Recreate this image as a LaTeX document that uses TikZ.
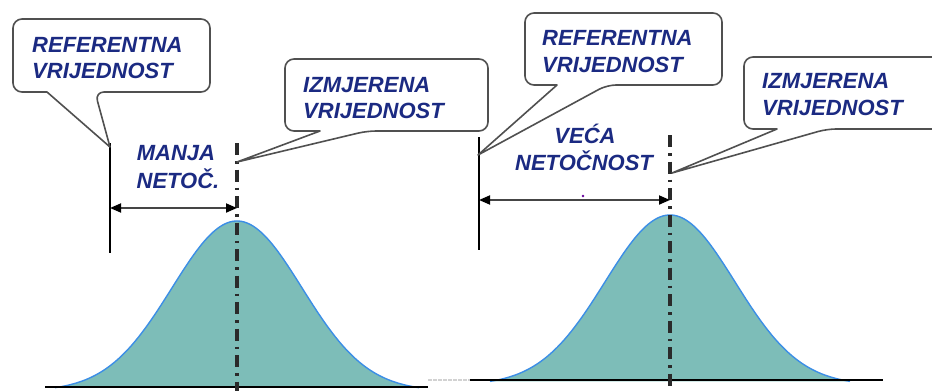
\documentclass[tikz,border=0pt]{standalone}
\usepackage{fontspec}
\setsansfont{Liberation Sans}
\usetikzlibrary{arrows.meta}
\definecolor{txtblue}{HTML}{1B2A82}
\definecolor{bellfill}{HTML}{7DBDB8}
\definecolor{belledge}{HTML}{3C8EE6}
\definecolor{boxline}{HTML}{505050}
\definecolor{dashline}{HTML}{2A2A2A}
\definecolor{spanline}{HTML}{454545}
\newcommand\mycallout[7]{%
  \draw[callout] (#5,#4) [rounded corners=9pt] -- (#1,#4) -- (#1,#2) -- (#3,#2) -- (#3,#4) -- (#6,#4) [sharp corners] -- (#7) -- cycle;}
\begin{document}
\begin{tikzpicture}[x=1pt,y=-1pt,
  lbl/.style={font=\fontsize{22}{27}\selectfont\sffamily\bfseries\itshape, text=txtblue, inner sep=0pt},
  callout/.style={draw=boxline, line width=1.6pt, fill=white, line join=round},
  refline/.style={draw=black, line width=2.2pt},
  axisline/.style={draw=black, line width=2pt},
  centreline/.style={draw=dashline, line width=3.2pt, dash pattern=on 12pt off 6pt on 2.5pt off 6pt},
  span/.style={draw=spanline, line width=1.8pt, {Triangle[length=11pt,width=9pt,color=black]}-{Triangle[length=11pt,width=9pt,color=black]}},
  bellarea/.style={fill=bellfill},
  belline/.style={draw=belledge, line width=1.4pt}
]
\useasboundingbox (0,0) rectangle (932,391);

% ---------------- left panel ----------------
\fill[bellarea] plot[domain=55:419,samples=140,smooth] (\x,{391-170*exp(-((\x-237)/65)^2/2)}) -- cycle;
\draw[belline] plot[domain=55:419,samples=140,smooth] (\x,{391-170*exp(-((\x-237)/65)^2/2)});
\coordinate (axLa) at (45,387);
\coordinate (axLb) at (428,387);
\draw[axisline] (axLa) -- (axLb);

\coordinate (refLtop) at (110,143);
\coordinate (refLbot) at (110,253);
\draw[refline] (refLtop) -- (refLbot);
\coordinate (measLtop) at (237,143);
\coordinate (measLbot) at (237,391);
\draw[centreline] (measLtop) -- (measLbot);

\coordinate (spanLa) at (110,208);
\coordinate (spanLb) at (237,208);
\draw[span] (spanLa) -- (spanLb);

\coordinate (tipRefL) at (110,147);
\mycallout{13}{19}{210}{92}{47}{95}{tipRefL}
\node[lbl, anchor=base west] (refL1) at (32,52) {REFERENTNA};
\node[lbl, anchor=base west] (refL2) at (32,78) {VRIJEDNOST};

\coordinate (tipMeasL) at (237,162);
\mycallout{285}{59}{488}{131}{320}{367}{tipMeasL}
\node[lbl, anchor=base west] (measL1) at (303,92) {IZMJERENA};
\node[lbl, anchor=base west] (measL2) at (303,118) {VRIJEDNOST};

\node[lbl, anchor=base] (smallA) at (176,160) {MANJA};
\node[lbl, anchor=base] (smallB) at (178,188) {NETOČ.};

% faint link between the two axes
\coordinate (fainta) at (428,380);
\coordinate (faintb) at (470,380);
\draw[gray!35, line width=1.5pt, dash pattern=on 4pt off 1pt] (fainta) -- (faintb);

% ---------------- right panel ----------------
\fill[bellarea] plot[domain=490:850,samples=140,smooth] (\x,{385-170*exp(-((\x-670)/65)^2/2)}) -- cycle;
\draw[belline] plot[domain=490:850,samples=140,smooth] (\x,{385-170*exp(-((\x-670)/65)^2/2)});
\coordinate (axRa) at (470,380);
\coordinate (axRb) at (883,380);
\draw[axisline] (axRa) -- (axRb);

\coordinate (refRtop) at (479,137);
\coordinate (refRbot) at (479,250);
\draw[refline] (refRtop) -- (refRbot);
\coordinate (measRtop) at (670,135);
\coordinate (measRbot) at (670,391);
\draw[centreline] (measRtop) -- (measRbot);

\coordinate (spanRa) at (479,200);
\coordinate (spanRb) at (670,200);
\draw[span] (spanRa) -- (spanRb);
\coordinate (speck) at (583,196);
\fill[blue!60!red] (speck) circle (1.3pt);

\coordinate (tipRefR) at (478,155);
\mycallout{525}{13}{722}{85}{557}{607}{tipRefR}
\node[lbl, anchor=base west] (refR1) at (542,45) {REFERENTNA};
\node[lbl, anchor=base west] (refR2) at (542,72) {VRIJEDNOST};

\coordinate (tipMeasR) at (672,173);
\mycallout{744}{57}{945}{129}{777}{827}{tipMeasR}
\node[lbl, anchor=base west] (measR1) at (762,88) {IZMJERENA};
\node[lbl, anchor=base west] (measR2) at (762,115) {VRIJEDNOST};

\node[lbl, anchor=base] (bigA) at (585,143) {VEĆA};
\node[lbl, anchor=base] (bigB) at (584,170) {NETOČNOST};
\end{tikzpicture}
\end{document}
